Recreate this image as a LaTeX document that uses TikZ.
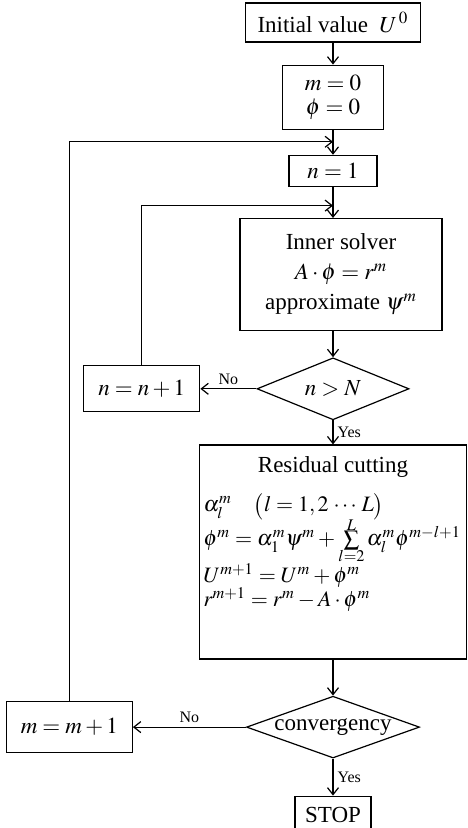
\documentclass[tikz,border=0pt]{standalone}
\usepackage{mathptmx}
\usepackage[no-math]{fontspec}
\setmainfont{Liberation Serif}
\usetikzlibrary{positioning,shapes.geometric,arrows.meta,calc}
\newcommand{\tightsum}[2]{\mathop{\vcenter{\offinterlineskip\halign{\hfil##\hfil\cr
  $\scriptstyle #2$\cr\noalign{\kern0.2pt}$\textstyle\sum$\cr\noalign{\kern0.2pt}$\scriptstyle #1$\cr}}}}

\begin{document}
\begin{tikzpicture}[x=0.5pt,y=-0.5pt,>={Straight Barb[length=3.5pt,width=5.5pt]},line width=0.6pt,
  every node/.style={font=\fontsize{11.5}{14}\selectfont}]
  \tikzstyle{procbox}=[draw,rectangle,inner sep=1pt,align=center]
  \tikzstyle{testbox}=[draw,diamond,inner sep=0pt,aspect=2.6]
  \tikzstyle{branch}=[font=\fontsize{8}{9}\selectfont,inner sep=2pt]
  \tikzstyle{resline}=[anchor=west,inner sep=0pt,font=\fontsize{11}{12}\selectfont]
  \useasboundingbox (0,0) rectangle (467,828);
  \node[procbox,minimum width=87.5pt,minimum height=19.5pt] (init) at (333,22.5) {Initial value\ \ $U^{\,0}$};
  \node[procbox,minimum width=50.5pt,minimum height=32pt,font=\fontsize{11.5}{12}\selectfont,below=11pt of init] (m0) {$m=0$\\$\phi=0$};
  \node[procbox,minimum width=44pt,minimum height=15.5pt,below=12.5pt of m0] (n1) {$n=1$};
  \node[procbox,minimum width=101pt,minimum height=56pt,font=\fontsize{11.5}{15}\selectfont,below=15.5pt of n1,xshift=4pt] (inner) {Inner solver\\$A\cdot\phi=r^m$\\approximate $\psi^m$};
  \node[testbox,minimum width=76pt,minimum height=31pt,below=13pt of inner,xshift=-4pt] (dN) {$n>N$};
  \node[procbox,minimum width=58pt,minimum height=23pt,left=28pt of dN] (nn) {$n=n+1$};
  \node[procbox,minimum width=133.5pt,minimum height=107pt,below=12pt of dN] (res) {};
  \node (rtitle) at ($(res.north)+(0,23)$) {Residual cutting};
  \node[resline] (ralpha) at ($(res.north west)+(4,62)$) {$\alpha_l^m\quad\bigl(l=1,2\,\cdots\,L\bigr)$};
  \node[resline] (rphi) at ($(res.north west)+(4,96)$) {$\phi^m=\alpha_1^m\psi^m+\tightsum{l=2}{L}\alpha_l^m\phi^{m-l+1}$};
  \node[resline] (rU) at ($(res.north west)+(4,131)$) {$U^{m+1}=U^m+\phi^m$};
  \node[resline] (rr) at ($(res.north west)+(4,155)$) {$r^{m+1}=r^m-A\cdot\phi^m$};
  \node[testbox,minimum width=86.5pt,minimum height=30.5pt,below=18pt of res] (conv) {convergency};
  \node[procbox,minimum width=63pt,minimum height=25.5pt,left=56.5pt of conv] (mm) {$m=m+1$};
  \node[procbox,minimum width=38pt,minimum height=18.5pt,below=18.5pt of conv] (stop) {STOP};
  % loop junctions
  \coordinate (j1) at ($(m0.south)!0.48!(n1.north)$);
  \coordinate (j2) at ($(n1.south)!0.6!(n1.south |- inner.north)$);
  \draw[->] (init) -- (m0);
  \draw[->] (m0) -- (n1);
  \draw[->] (n1.south) -- (n1.south |- inner.north);
  \draw[->] (dN.north |- inner.south) -- (dN.north);
  \draw[->] (dN.west) -- node[branch,above]{No} (dN.west -| nn.east);
  \draw[->] (nn.north) |- (j2);
  \draw[->] (dN.south) -- node[branch,right]{Yes} (res.north);
  \draw[->] (res) -- (conv);
  \draw[->] (conv.west) -- node[branch,above]{No} (conv.west -| mm.east);
  \draw[->] (mm.north) |- (j1);
  \draw[->] (conv.south) -- node[branch,right]{Yes} (stop.north);
\end{tikzpicture}
\end{document}
